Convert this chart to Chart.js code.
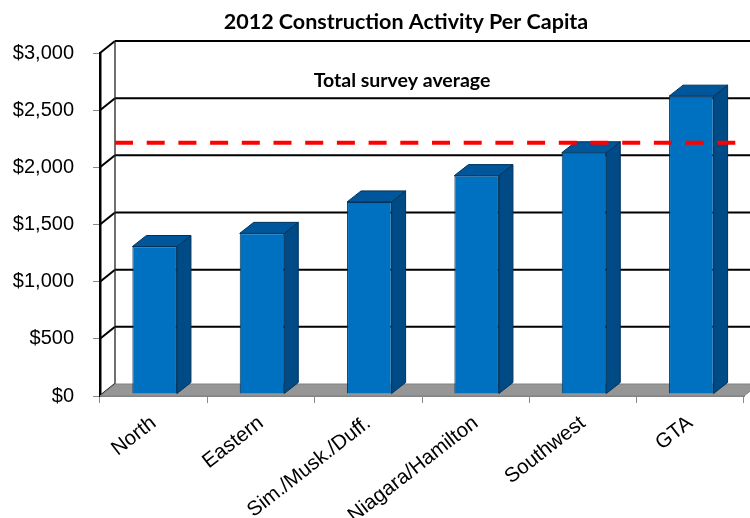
<!DOCTYPE html>
<html>
<head>
<meta charset="utf-8">
<script src="https://cdn.jsdelivr.net/npm/chart.js@4.4.1/dist/chart.umd.min.js"></script>
<style>
  html, body { margin: 0; padding: 0; background: #fff; }
</style>
</head>
<body>
<canvas id="perCapitaChart" width="750" height="518"></canvas>
<script>
// 地域別の一人当たり建設額（2012年）
const regions = ['North', 'Eastern', 'Sim./Musk./Duff.', 'Niagara/Hamilton', 'Southwest', 'GTA'];
const perCapita = [1290, 1405, 1680, 1910, 2110, 2605];
const surveyAverage = 2215;
const yTicks = [0, 500, 1000, 1500, 2000, 2500, 3000];
const chartTitle = '2012 Construction Activity Per Capita';
const averageLabel = 'Total survey average';

// 奥行きのずらし量
const WALL_DX = 15;
const WALL_DY = -12;
const BAR_DX = 14;
const BAR_DY = -11;
const BAR_SHIFT_X = 1;
const BAR_SHIFT_Y = -2;

function poly(ctx, pts) {
  ctx.beginPath();
  ctx.moveTo(pts[0][0], pts[0][1]);
  for (let i = 1; i < pts.length; i++) ctx.lineTo(pts[i][0], pts[i][1]);
  ctx.closePath();
}

function line(ctx, x1, y1, x2, y2) {
  ctx.beginPath();
  ctx.moveTo(x1, y1);
  ctx.lineTo(x2, y2);
  ctx.stroke();
}

// 3D風の壁・床・棒の側面を描くプラグイン
const depthPlugin = {
  id: 'depth3d',
  beforeDatasetsDraw(chart) {
    const { ctx, chartArea } = chart;
    const y = chart.scales.y;
    const left = chartArea.left;
    const right = chartArea.right;
    const yBase = y.getPixelForValue(0);
    const yTop = y.getPixelForValue(yTicks[yTicks.length - 1]);

    ctx.save();
    // 奥の壁の目盛り線
    ctx.strokeStyle = '#000';
    ctx.lineWidth = 2;
    yTicks.forEach((v) => {
      const py = y.getPixelForValue(v);
      if (v > 0) line(ctx, left + WALL_DX, py + WALL_DY, chart.width, py + WALL_DY);
      line(ctx, left, py, left + WALL_DX, py + WALL_DY);
    });
    // 壁の左端
    ctx.strokeStyle = '#222';
    ctx.lineWidth = 1.3;
    line(ctx, left + WALL_DX, yTop + WALL_DY, left + WALL_DX, yBase + WALL_DY);

    // 床
    ctx.fillStyle = '#969696';
    ctx.strokeStyle = '#808080';
    ctx.lineWidth = 1;
    poly(ctx, [[left, yBase], [right, yBase], [right + WALL_DX, yBase + WALL_DY], [left + WALL_DX, yBase + WALL_DY]]);
    ctx.fill();
    ctx.stroke();
    ctx.restore();

    // 棒は少し奥に置く
    ctx.save();
    ctx.translate(BAR_SHIFT_X, BAR_SHIFT_Y);
  },
  afterDatasetsDraw(chart) {
    const { ctx } = chart;
    const meta = chart.getDatasetMeta(0);
    meta.data.forEach((bar) => {
      const { x, y, base, width } = bar.getProps(['x', 'y', 'base', 'width'], true);
      const l = x - width / 2;
      const r = x + width / 2;
      ctx.lineWidth = 1;
      ctx.strokeStyle = '#00335C';
      // 側面
      ctx.fillStyle = '#004A85';
      poly(ctx, [[r, y], [r + BAR_DX, y + BAR_DY], [r + BAR_DX, base + BAR_DY], [r, base]]);
      ctx.fill();
      ctx.stroke();
      // 上面
      ctx.fillStyle = '#00569A';
      poly(ctx, [[l, y], [l + BAR_DX, y + BAR_DY], [r + BAR_DX, y + BAR_DY], [r, y]]);
      ctx.fill();
      ctx.stroke();
    });
    ctx.restore();

    // 全体平均の破線
    const py = chart.scales.y.getPixelForValue(surveyAverage);
    ctx.save();
    ctx.strokeStyle = '#FF0000';
    ctx.lineWidth = 4;
    ctx.setLineDash([18, 13.7]);
    line(ctx, chart.chartArea.left + WALL_DX, py, 737, py);
    ctx.restore();
  },
  afterDraw(chart) {
    const { ctx } = chart;
    ctx.save();
    ctx.fillStyle = '#000';
    ctx.textAlign = 'center';
    ctx.textBaseline = 'alphabetic';
    ctx.font = 'bold 21.5px Lato';
    ctx.fillText(chartTitle, 406, 29);
    ctx.font = 'bold 19.5px Lato';
    ctx.fillText(averageLabel, 402, 87);
    ctx.restore();
  }
};

const ctx = document.getElementById('perCapitaChart').getContext('2d');
new Chart(ctx, {
  type: 'bar',
  data: {
    labels: regions,
    datasets: [
      {
        label: 'Per capita',
        data: perCapita,
        backgroundColor: '#0070C0',
        borderColor: '#00335C',
        borderWidth: 1,
        barPercentage: 0.415,
        categoryPercentage: 1,
      },
    ],
  },
  options: {
    responsive: false,
    animation: false,
    devicePixelRatio: 1,
    layout: { padding: { top: 53, right: 6, left: 0, bottom: 0 } },
    plugins: {
      legend: { display: false },
      title: { display: false },
      tooltip: { enabled: false },
    },
    scales: {
      y: {
        min: 0,
        max: 3000,
        afterFit: (scale) => { scale.width = 100; },
        afterBuildTicks: (scale) => { scale.ticks = yTicks.map((v) => ({ value: v })); },
        ticks: {
          padding: 19,
          color: '#000',
          font: { family: 'Liberation Sans', size: 20 },
          callback: (v) => '$' + Number(v).toLocaleString('en-US'),
        },
        grid: { drawOnChartArea: false, tickLength: 7, color: '#888', lineWidth: 1 },
        border: { display: true, color: '#000', width: 2.5 },
      },
      x: {
        afterFit: (scale) => { scale.height = 122; },
        ticks: {
          color: '#000',
          font: { family: 'Liberation Sans', size: 20.5 },
          minRotation: 38,
          maxRotation: 38,
          autoSkip: false,
          padding: 8,
        },
        grid: { offset: true, drawOnChartArea: false, tickLength: 7, color: '#888', lineWidth: 1 },
        border: { display: true, color: '#888', width: 1 },
      },
    },
  },
  plugins: [depthPlugin],
});
</script>
</body>
</html>
